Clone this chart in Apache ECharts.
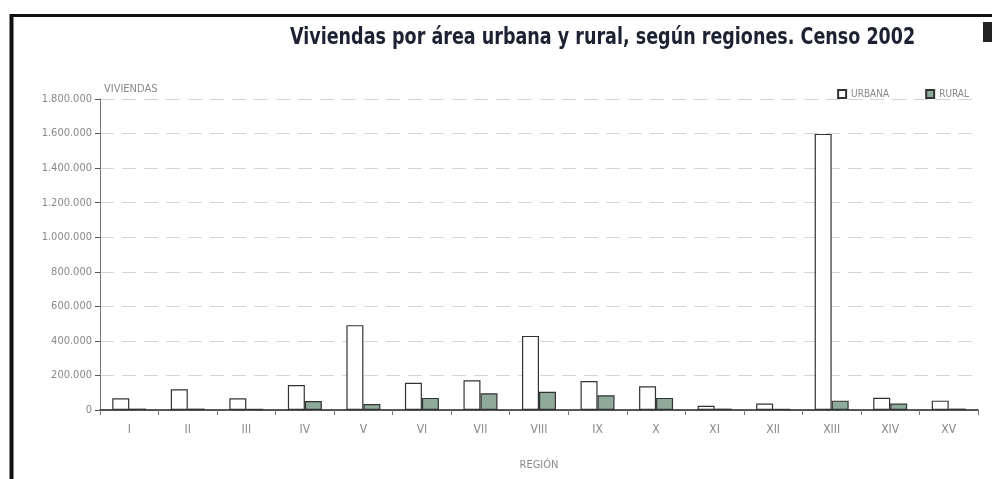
<!DOCTYPE html>
<html>
<head>
<meta charset="utf-8">
<script src="https://cdn.jsdelivr.net/npm/echarts@6/dist/echarts.min.js"></script>
<style>
html,body{margin:0;padding:0;background:#fff;}
#chart{width:992px;height:479px;}
</style>
</head>
<body>
<div id="chart"></div>
<script>
const categories = ['I','II','III','IV','V','VI','VII','VIII','IX','X','XI','XII','XIII','XIV','XV'];
const urbana = [68000,120000,68000,145000,491000,157000,172000,429000,168000,137000,25000,37000,1598000,71000,54000];
const rural = [8000,8000,7000,52000,35000,70000,97000,106000,85000,70000,8000,7000,54000,37000,8000];
const yTicks = [0,200000,400000,600000,800000,1000000,1200000,1400000,1600000,1800000];
const titleText = 'Viviendas por área urbana y rural, según regiones. Censo 2002';

function fmt(v){
  return String(v).replace(/\B(?=(\d{3})+(?!\d))/g,'.');
}

const chart = echarts.init(document.getElementById('chart'));
chart.setOption({
  backgroundColor:'#fff',
  animation:false,
  legend:{
    right:18, top:84,
    itemWidth:8, itemHeight:8, itemGap:36,
    icon:'rect',
    textStyle:{color:'#888',fontSize:10,fontFamily:"'DejaVu Sans Condensed',sans-serif"},
    data:['URBANA','RURAL']
  },
  grid:{left:100,right:14,top:99,bottom:69},
  xAxis:{
    type:'category',
    data:categories,
    name:'REGIÓN',
    nameLocation:'middle',
    nameGap:50,
    nameTextStyle:{color:'#888',fontSize:11,fontFamily:"'DejaVu Sans Condensed',sans-serif"},
    axisLine:{lineStyle:{color:'#222',width:1.5}},
    axisTick:{show:true,length:5,lineStyle:{color:'#777'}},
    axisLabel:{color:'#888',fontSize:12,margin:14,fontFamily:"'DejaVu Sans Condensed',sans-serif"}
  },
  yAxis:{
    type:'value',
    min:0,max:1800000,interval:200000,
    name:'VIVIENDAS',
    nameLocation:'end',
    nameGap:4,
    nameTextStyle:{color:'#888',fontSize:11,align:'left',padding:[0,0,0,4],fontFamily:"'DejaVu Sans Condensed',sans-serif"},
    axisLine:{show:true,lineStyle:{color:'#777'}},
    axisTick:{show:true,length:5,inside:false,lineStyle:{color:'#555'}},
    axisLabel:{color:'#888',fontSize:11,margin:8,fontFamily:"'DejaVu Sans Condensed',sans-serif",formatter:function(v){return yTicks.indexOf(v)>=0?fmt(v):'';}},
    splitLine:{show:true,lineStyle:{color:'#d4d4d4',type:[14,8],width:1}}
  },
  series:[
    {name:'URBANA',type:'bar',data:urbana,barWidth:17,barGap:'0%',
     itemStyle:{color:'#fff',borderColor:'#333',borderWidth:1.2}},
    {name:'RURAL',type:'bar',data:rural,barWidth:17,
     itemStyle:{color:'#8fa99b',borderColor:'#333',borderWidth:1.2}}
  ],
  graphic:[
    {type:'text',x:290,y:27,scaleX:0.848,
     style:{text:titleText,font:"bold 23px 'DejaVu Sans Condensed',sans-serif",fill:'#1d2233'}},
    {type:'line',shape:{x1:11,y1:15.5,x2:992,y2:15.5},style:{stroke:'#111',lineWidth:3}},
    {type:'line',shape:{x1:11.5,y1:14,x2:11.5,y2:479},style:{stroke:'#111',lineWidth:4}},
    {type:'rect',shape:{x:983,y:22,width:9,height:20},style:{fill:'#222'}}
  ]
});
</script>
</body>
</html>
